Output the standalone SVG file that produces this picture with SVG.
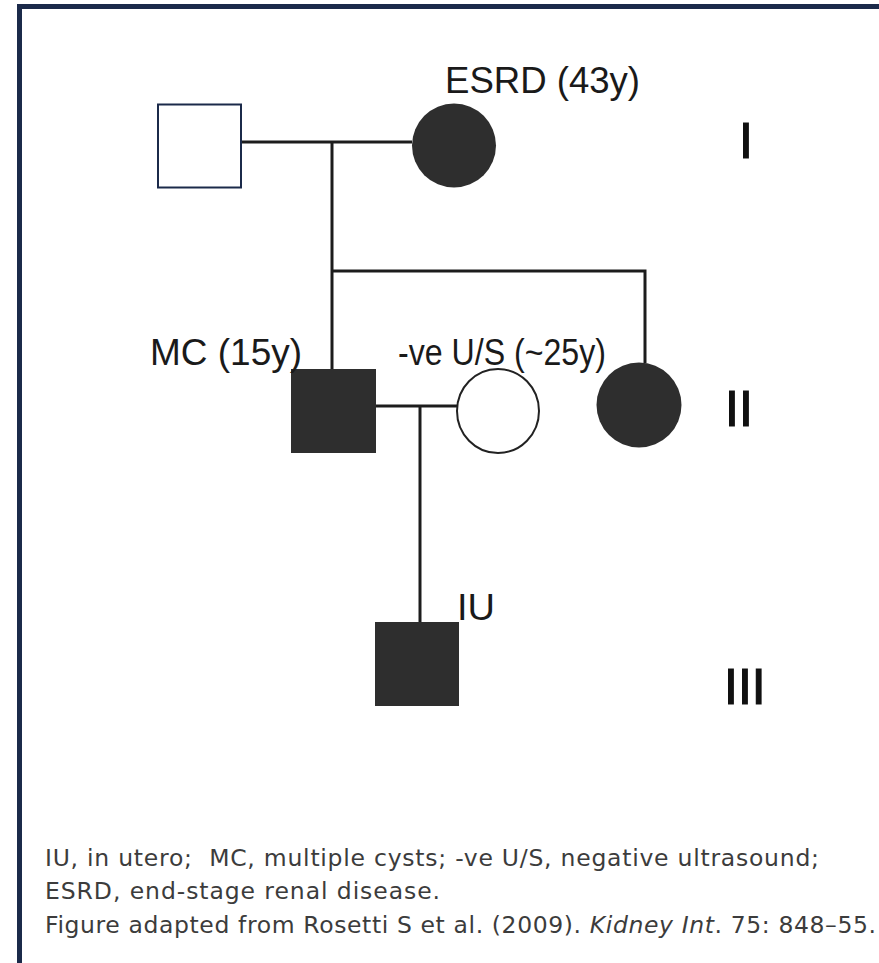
<svg xmlns="http://www.w3.org/2000/svg" width="879" height="963" viewBox="0 0 879 963">
<style>
.ln{stroke:#1c1c1c;stroke-width:3;fill:none}
.aff{fill:#2e2e2e}
.unaff{fill:#fff;stroke:#1b2a4a;stroke-width:2}
.unaffc{fill:#fff;stroke:#222;stroke-width:2}
.lbl{font-family:"Liberation Sans",Arial,sans-serif;font-size:37px;fill:#1a1a1a}
.gen{font-family:"Liberation Sans",Arial,sans-serif;font-size:50px;fill:#111;stroke:#111;stroke-width:1.2}
.cap{font-family:"DejaVu Sans",Verdana,sans-serif;font-size:23.5px;fill:#3c3c3c;white-space:pre}
</style>
<rect width="879" height="963" fill="#fff"/>
<path d="M19.5,963 V6.5 H879" fill="none" stroke="#1b2a4a" stroke-width="5"/>
<g id="connectors">
<path class="ln" d="M241,142 H412"/>
<path class="ln" d="M332,142 V369"/>
<path class="ln" d="M332,271 H645 V363"/>
<path class="ln" d="M376,406 H457"/>
<path class="ln" d="M420,406 V622"/>
</g>
<g id="I-1"><rect class="unaff" x="158" y="104.5" width="83" height="83"/></g>
<g id="I-2"><circle class="aff" cx="454" cy="145.5" r="42"/>
<text class="lbl" x="445" y="93" textLength="195" lengthAdjust="spacingAndGlyphs">ESRD (43y)</text></g>
<g id="II-1"><rect class="aff" x="291" y="369" width="85" height="84"/>
<text class="lbl" x="150" y="365" textLength="152" lengthAdjust="spacingAndGlyphs">MC (15y)</text></g>
<g id="II-2"><ellipse class="unaffc" cx="498" cy="411" rx="41" ry="42"/>
<text class="lbl" x="398" y="365" textLength="208" lengthAdjust="spacingAndGlyphs">-ve U/S (~25y)</text></g>
<g id="II-3"><circle class="aff" cx="639" cy="405" r="42.5"/></g>
<g id="III-1"><rect class="aff" x="375" y="622" width="84" height="84"/>
<text class="lbl" x="457" y="620" textLength="38" lengthAdjust="spacingAndGlyphs">IU</text></g>
<g id="generations">
<text class="gen" x="739" y="158">I</text>
<text class="gen" x="725" y="426">II</text>
<text class="gen" x="724" y="704">III</text>
</g>
<g id="caption">
<text class="cap" x="45" y="866" textLength="774">IU, in utero;  MC, multiple cysts; -ve U/S, negative ultrasound;</text>
<text class="cap" x="45" y="899" textLength="395">ESRD, end-stage renal disease.</text>
<text class="cap" x="45" y="933" textLength="831">Figure adapted from Rosetti S et al. (2009). <tspan font-style="italic">Kidney Int</tspan>. 75: 848–55.</text>
</g>
</svg>
